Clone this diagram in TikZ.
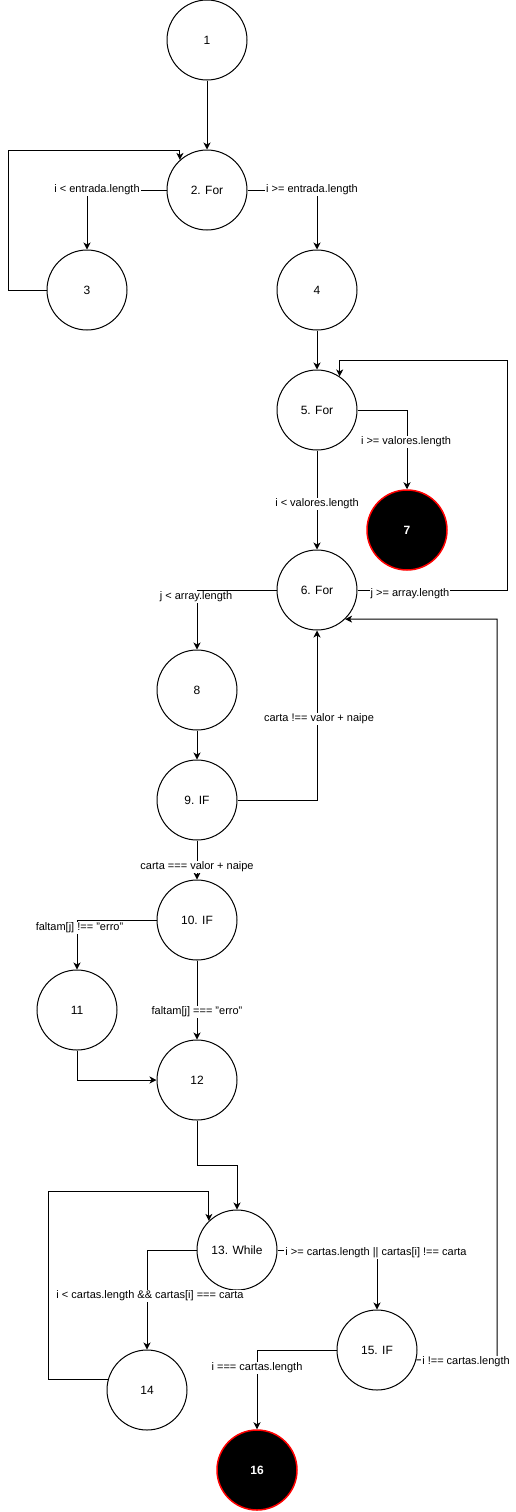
\documentclass[tikz,border=0pt]{standalone}
\usepackage{fontspec}
\setmainfont{Liberation Sans}
\usetikzlibrary{arrows.meta}
\begin{document}
\begin{tikzpicture}[x=1pt,y=-1pt,
  st/.style={circle,draw,line width=1pt,minimum size=80pt,inner sep=0pt,font=\fontsize{12}{14}\selectfont},
  term/.style={st,fill=black,draw=red,line width=1.5pt,text=white,font=\fontsize{12}{14}\selectfont\bfseries},
  lbl/.style={fill=white,inner sep=1pt,font=\fontsize{11}{13}\selectfont},
  arr/.style={draw,line width=1pt,-{Stealth[length=7pt,width=7pt,inset=2pt]}}]
\useasboundingbox (0,0) rectangle (516,1512);
% nodes
\node[st] (n1) at (207,40) {1};
\node[st] (n2) at (207,190) {2. For};
\node[st] (n3) at (87,290) {3};
\node[st] (n4) at (317,290) {4};
\node[st] (n5) at (317,410) {5. For};
\node[term] (n7) at (407,530) {7};
\node[st] (n6) at (317,590) {6. For};
\node[st] (n8) at (197,690) {8};
\node[st] (n9) at (197,800) {9. IF};
\node[st] (n10) at (197,920) {10. IF};
\node[st] (n11) at (77,1010) {11};
\node[st] (n12) at (197,1080) {12};
\node[st] (n13) at (237,1250) {13. While};
\node[st] (n14) at (147,1390) {14};
\node[st] (n15) at (377,1350) {15. IF};
\node[term] (n16) at (257,1470) {16};
% edges
\draw[arr] (n1) -- (n2);
\draw[arr] (n2.west) -| (n3.north);
\draw[arr] (n2.east) -| (n4.north);
\draw[arr] (n3.west) -| (8,150) -| (n2.132.5);
\draw[arr] (n4) -- (n5);
\draw[arr] (n5.east) -| (n7.north);
\draw[arr] (n5) -- (n6);
\draw[arr] (n6.east) -| (507,360) -| (n5.56.6);
\draw[arr] (n6.west) -| (n8.north);
\draw[arr] (n8) -- (n9);
\draw[arr] (n9.east) -| (n6.south);
\draw[arr] (n9) -- (n10);
\draw[arr] (n10.west) -| (n11.north);
\draw[arr] (n10) -- (n12);
\draw[arr] (n11.south) |- (n12.west);
\draw[arr] (n12.south) |- (237,1165) -- (n13.north);
\draw[arr] (n13.west) -| (n14.north);
\draw[arr] (n14.165.5) -| (48,1191) -| (n13.134.4);
\draw[arr] (n13.east) -| (n15.north);
\draw[arr] (n15.west) -| (n16.north);
\draw[arr] (n15.-14.5) -| (497,619) -- (n6.-46.5);
% labels
\node[lbl] (l2a) at (97,190) {i < entrada.length};
\node[lbl] (l2b) at (312,190) {i >= entrada.length};
\node[lbl] (l5a) at (406,442) {i >= valores.length};
\node[lbl] (l5b) at (317,504) {i < valores.length};
\node[lbl] (l6a) at (410,594) {j >= array.length};
\node[lbl] (l6b) at (196,597) {j < array.length};
\node[lbl] (l9a) at (319,719) {carta !== valor + naipe};
\node[lbl] (l9b) at (197,867) {carta === valor + naipe};
\node[lbl] (l10a) at (79.5,928) {faltam[j] !== "erro"};
\node[lbl] (l10b) at (197,1012) {faltam[j] === "erro"};
\node[lbl] (l13a) at (150,1296) {i < cartas.length \&\& cartas[i] === carta};
\node[lbl] (l13b) at (376,1253) {i >= cartas.length || cartas[i] !== carta};
\node[lbl] (l15a) at (257,1368) {i === cartas.length};
\node[lbl] (l15b) at (466,1362) {i !== cartas.length};
\end{tikzpicture}
\end{document}
